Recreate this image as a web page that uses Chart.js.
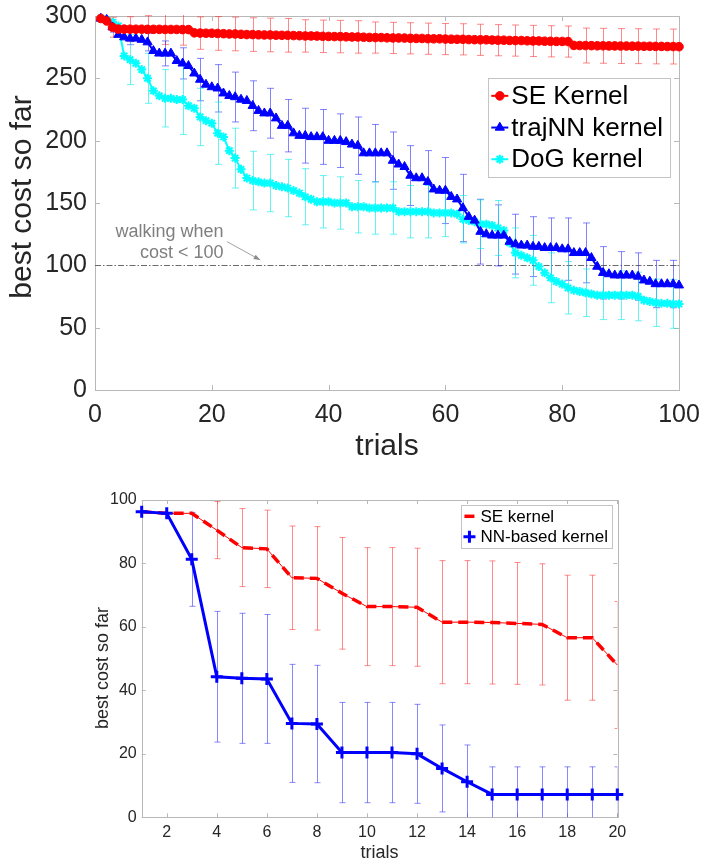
<!DOCTYPE html>
<html><head><meta charset="utf-8">
<script src="https://cdn.jsdelivr.net/npm/chart.js@4.4.1/dist/chart.umd.min.js"></script>
<style>
html,body{margin:0;padding:0;background:#fff;}
#wrap{position:relative;width:702px;height:864px;background:#fff;}
#c1{position:absolute;left:0;top:0;}
#c2{position:absolute;left:0;top:470px;}
</style></head><body>
<div id="wrap"><canvas id="c1" width="702" height="470"></canvas><canvas id="c2" width="702" height="394"></canvas></div>
<script>
// ================= DATA (top chart) =================
const topTrials = Array.from({length: 100}, (_, i) => i + 1);
const topXTicks = [0, 20, 40, 60, 80, 100];
const topYTicks = [0, 50, 100, 150, 200, 250, 300];
const seKernelCost = [
  298, 296, 291, 289.5, 289.5, 289.4, 289.4, 289.4, 289.3, 289.3,
  289.3, 289.2, 289.2, 289.2, 289.1, 289.1, 286.5, 286.3, 286.2, 286.2,
  286.0, 285.8, 285.6, 285.6, 285.3, 285.1, 285.1, 284.9, 284.8, 284.8,
  284.6, 284.5, 284.5, 284.3, 284.2, 284.0, 284.0, 283.9, 283.7, 283.6,
  283.5, 283.5, 283.3, 283.2, 283.2, 283.0, 282.8, 282.7, 282.7, 282.5,
  282.4, 282.4, 282.3, 282.1, 282.0, 282.0, 281.8, 281.7, 281.7, 281.5,
  281.4, 281.3, 281.3, 281.1, 281.0, 280.9, 280.9, 280.7, 280.6, 280.6,
  280.4, 280.3, 280.3, 280.1, 280.0, 280.0, 279.8, 279.7, 279.6, 279.6,
  279.5, 276.4, 276.3, 276.3, 276.2, 276.1, 276.1, 276.0, 276.0, 275.9,
  275.9, 275.8, 275.8, 275.7, 275.7, 275.6, 275.6, 275.5, 275.5, 275.4
];
const trajNNCost = [
  298, 297, 291, 285, 283, 282, 282, 281, 279, 272,
  270, 270, 270, 264, 262, 260, 254, 249, 245, 243,
  242, 238, 236, 235, 233, 232, 228, 224, 222, 222,
  218, 212, 212, 206, 204, 204, 203, 203, 203, 200,
  200, 200, 199, 197, 196, 190, 190, 190, 190, 190,
  184, 181, 179, 172, 170, 170, 167, 161, 160, 160,
  155, 153, 146, 139, 136, 127, 125, 124, 124, 124,
  119, 117, 116, 116, 115, 115, 114, 114, 114, 113,
  113, 110, 110, 110, 106, 99, 94, 93, 92, 92,
  92, 92, 91, 88, 87, 85, 85, 85, 85, 84
];
const dogKernelCost = [
  298, 297, 295, 292, 268, 265, 262, 257, 250, 240,
  236, 234, 234, 233, 233, 228, 226, 219, 216, 214,
  206, 203, 192, 186, 177, 170, 168, 167, 166, 166,
  164, 163, 162, 160, 158, 155, 153, 151, 151, 151,
  150, 150, 150, 147, 147, 147, 146, 146, 146, 146,
  146, 143, 143, 143, 143, 143, 143, 142, 142, 142,
  142, 141, 137, 136, 135, 133, 133, 132, 130, 128,
  118, 110, 108, 106, 104, 99, 94, 90, 87, 85,
  82, 80, 79, 78, 77, 76, 76, 76, 76, 76,
  76, 76, 75, 72, 71, 70, 69.5, 69.5, 69, 69
];
const errTrials = [3, 6, 9, 12, 15, 18, 21, 24, 27, 30, 33, 36, 39, 42, 45, 48, 51,
  54, 57, 60, 63, 66, 69, 72, 75, 78, 81, 84, 87, 90, 93, 96, 99];
const seKernelErr = [8, 10, 11, 12, 12.5, 13, 13.5, 13.5, 13.5, 13.5, 13.5, 13, 13, 13, 13, 12.5, 12.5,
  12.5, 12.5, 12.5, 12.5, 12.5, 12.5, 12.5, 12.5, 12.5, 12.5, 14, 14, 14, 14, 14, 14];
const trajNNErr = [4, 5, 7, 10, 12.5, 17, 19, 20, 20, 20, 21, 22, 22, 21.5, 23, 23, 23,
  24, 25, 26.5, 27, 26, 24.5, 24, 24, 24, 25, 24, 21, 19, 19, 19, 19];
const dogKernelErr = [2, 20, 20, 23, 28, 23, 25, 24, 23.5, 23, 23, 22.5, 21, 21, 21, 21, 21,
  21, 21, 19, 19, 19.5, 22, 20, 20, 20, 21, 19, 19.5, 19.5, 19.5, 19, 19.5];
const walkThreshold = 100;
const walkNote = ['walking when', 'cost < 100'];
const walkNoteAnchor = {x: 22, y: [127, 110]};
const walkArrow = {from: [22.6, 119], to: [28.3, 104.3]};

// ================= DATA (bottom chart) =================
const botTrials = [1, 2, 3, 4, 5, 6, 7, 8, 9, 10, 11, 12, 13, 14, 15, 16, 17, 18, 19, 20];
const botXTicks = [2, 4, 6, 8, 10, 12, 14, 16, 18, 20];
const botYTicks = [0, 20, 40, 60, 80, 100];
const seKernel2 = [96.3, 95.8, 95.8, 90.5, 85, 84.6, 75.5, 75.3, 70.6, 66.4,
  66.4, 66.2, 61.5, 61.5, 61.4, 61.1, 60.8, 56.6, 56.6, 48];
const seKernel2Err = [0, 0, 0, 9, 12.3, 12.2, 16.3, 16.3, 17.6, 18.6,
  18.6, 18.6, 19.4, 19.4, 19.4, 19.2, 19.1, 19.7, 19.7, 20];
const nnKernel2 = [96.3, 95.8, 81.3, 44.3, 43.8, 43.6, 29.6, 29.4, 20.4, 20.4,
  20.4, 20, 15.4, 11.2, 7.2, 7.2, 7.2, 7.2, 7.2, 7.2];
const nnKernel2Err = [0, 0, 14.8, 20.6, 20.5, 20.3, 18.6, 18.5, 15.8, 15.8,
  15.8, 15.6, 13.7, 11.6, 8.7, 8.7, 8.7, 8.7, 8.7, 8.7];

// ================= helpers =================
const FONT = "'Liberation Sans', Arial, Helvetica, sans-serif";
const TXT = '#262626';
const AXC = '#b8b8b8';
Chart.defaults.font.family = FONT;
Chart.defaults.color = TXT;
Chart.defaults.animation = false;

function pts(xs, ys) { return ys.map((v, i) => ({x: xs[i], y: v})); }
function noPad(s) { s.paddingLeft = 0; s.paddingRight = 0; s.paddingTop = 0; s.paddingBottom = 0; }

function drawBoxAndTicks(chart, tickLen) {
  const {ctx, chartArea: a, scales: {x, y}} = chart;
  ctx.save();
  ctx.strokeStyle = AXC; ctx.lineWidth = 1;
  ctx.beginPath();
  x.ticks.forEach(t => {
    const px = Math.round(x.getPixelForValue(t.value)) + 0.5;
    ctx.moveTo(px, a.bottom); ctx.lineTo(px, a.bottom - tickLen);
    ctx.moveTo(px, a.top); ctx.lineTo(px, a.top + tickLen);
  });
  y.ticks.forEach(t => {
    const py = Math.round(y.getPixelForValue(t.value)) + 0.5;
    ctx.moveTo(a.left, py); ctx.lineTo(a.left + tickLen, py);
    ctx.moveTo(a.right, py); ctx.lineTo(a.right - tickLen, py);
  });
  ctx.stroke();
  ctx.strokeRect(Math.round(a.left) + 0.5, Math.round(a.top) + 0.5,
    Math.round(a.right - a.left), Math.round(a.bottom - a.top));
  ctx.restore();
}

function drawErrorBars(chart, capHalf) {
  const {ctx, chartArea: a, scales: {x, y}} = chart;
  ctx.save();
  ctx.beginPath(); ctx.rect(a.left, a.top - 1, a.right - a.left, a.bottom - a.top + 1); ctx.clip();
  ctx.lineWidth = 1;
  chart.data.datasets.forEach(ds => {
    if (!ds.errHalf) return;
    ctx.strokeStyle = ds.errColor;
    ds.errAt.forEach((xv, k) => {
      const h = ds.errHalf[k]; if (!h) return;
      const p = ds.data.find(d => d.x === xv); if (!p) return;
      const px = Math.round(x.getPixelForValue(xv)) + 0.5;
      const y1 = y.getPixelForValue(p.y + h), y2 = y.getPixelForValue(p.y - h);
      ctx.beginPath();
      ctx.moveTo(px, y1); ctx.lineTo(px, y2);
      ctx.moveTo(px - capHalf, y1); ctx.lineTo(px + capHalf, y1);
      ctx.moveTo(px - capHalf, y2); ctx.lineTo(px + capHalf, y2);
      ctx.stroke();
    });
  });
  ctx.restore();
}

function drawYTitle(chart, text, size, cx, cy) {
  const ctx = chart.ctx;
  ctx.save();
  ctx.font = size + 'px ' + FONT;
  ctx.fillStyle = TXT; ctx.textAlign = 'center'; ctx.textBaseline = 'middle';
  ctx.translate(cx, cy); ctx.rotate(-Math.PI / 2);
  ctx.fillText(text, 0, 0);
  ctx.restore();
}

function drawLegend(chart, o) {
  const {ctx, chartArea: a} = chart;
  const items = chart.data.datasets.filter(d => !d.hideInLegend);
  ctx.save();
  ctx.font = o.fontSize + 'px ' + FONT;
  const tw = Math.max(...items.map(d => ctx.measureText(d.label).width));
  const w = o.padL + o.lineLen + o.gap + tw + o.padR;
  const h = o.padV * 2 + o.rowH * items.length;
  const x0 = a.right - o.rightGap - w, y0 = a.top + o.topGap;
  ctx.fillStyle = '#fff'; ctx.fillRect(x0, y0, w, h);
  ctx.strokeStyle = '#c4c4c4'; ctx.lineWidth = 1;
  ctx.strokeRect(Math.round(x0) + 0.5, Math.round(y0) + 0.5, Math.round(w), Math.round(h));
  items.forEach((d, i) => {
    const cy = y0 + o.padV + o.rowH * (i + 0.5);
    const lx = x0 + o.padL;
    o.marker(ctx, d, lx, lx + o.lineLen, cy);
    ctx.font = o.fontSize + 'px ' + FONT;
    ctx.fillStyle = '#000'; ctx.textBaseline = 'middle'; ctx.textAlign = 'left';
    ctx.fillText(d.label, lx + o.lineLen + o.gap, cy + 1);
  });
  ctx.restore();
}

function linePointMarker(ctx, d, x1, x2, cy) {
  ctx.save();
  ctx.strokeStyle = d.borderColor; ctx.lineWidth = d.borderWidth;
  ctx.beginPath(); ctx.moveTo(x1, cy); ctx.lineTo(x2, cy); ctx.stroke();
  ctx.fillStyle = d.pointBackgroundColor; ctx.strokeStyle = d.pointBorderColor;
  ctx.lineWidth = d.pointBorderWidth;
  Chart.helpers.drawPoint(ctx, {pointStyle: d.pointStyle, radius: d.pointRadius,
    borderWidth: d.pointBorderWidth, rotation: 0}, (x1 + x2) / 2, cy);
  ctx.restore();
}

// ================= TOP CHART =================
const topPlugin = {
  id: 'topPlugin',
  beforeDatasetsDraw(chart) {
    const {ctx, chartArea: a, scales: {x, y}} = chart;
    drawBoxAndTicks(chart, 5);
    // threshold line (dash-dot)
    ctx.save();
    ctx.strokeStyle = '#6a6a6a'; ctx.lineWidth = 1; ctx.setLineDash([6, 2, 1.5, 2]);
    const ty = Math.round(y.getPixelForValue(walkThreshold)) + 0.5;
    ctx.beginPath(); ctx.moveTo(x.getPixelForValue(0), ty); ctx.lineTo(x.getPixelForValue(100), ty); ctx.stroke();
    ctx.restore();
    // annotation
    ctx.save();
    ctx.fillStyle = '#7f7f7f'; ctx.font = '18px ' + FONT; ctx.textAlign = 'right'; ctx.textBaseline = 'middle';
    walkNote.forEach((t, i) => ctx.fillText(t, x.getPixelForValue(walkNoteAnchor.x), y.getPixelForValue(walkNoteAnchor.y[i])));
    const ax1 = x.getPixelForValue(walkArrow.from[0]), ay1 = y.getPixelForValue(walkArrow.from[1]);
    const ax2 = x.getPixelForValue(walkArrow.to[0]), ay2 = y.getPixelForValue(walkArrow.to[1]);
    ctx.strokeStyle = '#8a8a8a'; ctx.fillStyle = '#8a8a8a'; ctx.lineWidth = 0.8;
    ctx.beginPath(); ctx.moveTo(ax1, ay1); ctx.lineTo(ax2, ay2); ctx.stroke();
    const ang = Math.atan2(ay2 - ay1, ax2 - ax1);
    ctx.beginPath(); ctx.moveTo(ax2, ay2);
    ctx.lineTo(ax2 - 7 * Math.cos(ang - 0.35), ay2 - 7 * Math.sin(ang - 0.35));
    ctx.lineTo(ax2 - 7 * Math.cos(ang + 0.35), ay2 - 7 * Math.sin(ang + 0.35));
    ctx.closePath(); ctx.fill();
    ctx.restore();
    drawErrorBars(chart, 3.5);
  },
  afterDatasetsDraw(chart) {
    drawLegend(chart, {fontSize: 26, padL: 3, lineLen: 17, gap: 3, padR: 7, rowH: 31.7, padV: 2,
      rightGap: 9, topGap: 62, marker: linePointMarker});
    drawYTitle(chart, 'best cost so far', 30, 23, 197);
  }
};

const chartTop = new Chart(document.getElementById('c1'), {
  type: 'line',
  data: {datasets: [
    {label: 'SE Kernel', data: pts(topTrials, seKernelCost), borderColor: '#ff0000', borderWidth: 2,
      pointStyle: 'circle', pointRadius: 4.3, pointBackgroundColor: '#ff0000', pointBorderColor: '#ff0000', pointBorderWidth: 1,
      errAt: errTrials, errHalf: seKernelErr, errColor: 'rgba(255,40,40,0.55)'},
    {label: 'trajNN kernel', data: pts(topTrials, trajNNCost), borderColor: '#0000ff', borderWidth: 2,
      pointStyle: 'triangle', pointRadius: 5.3, pointBackgroundColor: '#0000ff', pointBorderColor: '#0000ff', pointBorderWidth: 1,
      errAt: errTrials, errHalf: trajNNErr, errColor: 'rgba(30,30,255,0.55)'},
    {label: 'DoG kernel', data: pts(topTrials, dogKernelCost), borderColor: '#00ffff', borderWidth: 2,
      pointStyle: 'star', pointRadius: 4.5, pointBackgroundColor: '#00ffff', pointBorderColor: '#00ffff', pointBorderWidth: 2,
      errAt: errTrials, errHalf: dogKernelErr, errColor: 'rgba(0,235,235,0.6)'}
  ].map(d => Object.assign(d, {tension: 0, clip: false, fill: false}))},
  options: {
    responsive: false, animation: false, events: [],
    layout: {autoPadding: false, padding: {left: 0, top: 16, right: 23, bottom: 0}},
    plugins: {legend: {display: false}, tooltip: {enabled: false}},
    scales: {
      x: {type: 'linear', min: 0, max: 100,
        afterBuildTicks: s => { s.ticks = topXTicks.map(v => ({value: v})); },
        afterFit: s => { s.height = 80; noPad(s); },
        grid: {display: false, drawTicks: false}, border: {display: false},
        ticks: {font: {size: 25}, padding: 10, color: TXT, maxRotation: 0, autoSkip: false},
        title: {display: true, text: 'trials', font: {size: 30}, color: TXT, padding: {top: 0, bottom: 5}}},
      y: {type: 'linear', min: 0, max: 300,
        afterBuildTicks: s => { s.ticks = topYTicks.map(v => ({value: v})); },
        afterFit: s => { s.width = 95; noPad(s); },
        grid: {display: false, drawTicks: false}, border: {display: false},
        ticks: {font: {size: 25}, padding: 8, color: TXT, autoSkip: false}}
    }
  },
  plugins: [topPlugin]
});

// ================= BOTTOM CHART =================
const botPlugin = {
  id: 'botPlugin',
  beforeDatasetsDraw(chart) {
    drawBoxAndTicks(chart, 4);
    drawErrorBars(chart, 3);
  },
  afterDatasetsDraw(chart) {
    drawLegend(chart, {fontSize: 17, padL: 2, lineLen: 12, gap: 5, padR: 4, rowH: 20.4, padV: 1.1,
      rightGap: 5.3, topGap: 5, marker: (ctx, d, x1, x2, cy) => {
        const cx = (x1 + x2) / 2;
        ctx.save();
        ctx.strokeStyle = d.borderColor;
        if (d.pointStyle === 'cross') {
          ctx.lineWidth = 3;
          ctx.beginPath(); ctx.moveTo(cx - 6, cy); ctx.lineTo(cx + 6, cy);
          ctx.moveTo(cx, cy - 6); ctx.lineTo(cx, cy + 6); ctx.stroke();
        } else {
          ctx.lineWidth = 3.5;
          ctx.beginPath(); ctx.moveTo(cx - 5, cy); ctx.lineTo(cx + 5, cy); ctx.stroke();
        }
        ctx.restore();
      }});
    drawYTitle(chart, 'best cost so far', 18, 103, 198);
  }
};

const chartBot = new Chart(document.getElementById('c2'), {
  type: 'line',
  data: {datasets: [
    {label: 'SE kernel', data: pts(botTrials, seKernel2), borderColor: '#ff0000', borderWidth: 1,
      pointRadius: 0, order: 1, hideInLegend: true},
    {label: 'SE kernel', data: pts(botTrials, seKernel2), borderColor: '#ff0000', borderWidth: 3.5,
      borderDash: [10, 6], pointRadius: 0, order: 1,
      errAt: botTrials, errHalf: seKernel2Err, errColor: 'rgba(255,60,60,0.6)'},
    {label: 'NN-based kernel', data: pts(botTrials, nnKernel2), borderColor: '#0000ff', borderWidth: 3,
      pointStyle: 'cross', pointRadius: 6, pointBorderColor: '#0000ff', pointBackgroundColor: '#0000ff',
      pointBorderWidth: 3, order: 0,
      errAt: botTrials, errHalf: nnKernel2Err, errColor: 'rgba(40,40,255,0.55)'}
  ].map(d => Object.assign(d, {tension: 0, clip: false, fill: false}))},
  options: {
    responsive: false, animation: false, events: [],
    layout: {autoPadding: false, padding: {left: 0, top: 30, right: 84.7, bottom: 0}},
    plugins: {legend: {display: false}, tooltip: {enabled: false}},
    scales: {
      x: {type: 'linear', min: 1, max: 20,
        afterBuildTicks: s => { s.ticks = botXTicks.map(v => ({value: v})); },
        afterFit: s => { s.height = 46.7; noPad(s); },
        grid: {display: false, drawTicks: false}, border: {display: false},
        ticks: {font: {size: 16}, padding: 6, color: TXT, maxRotation: 0, autoSkip: false},
        title: {display: true, text: 'trials', font: {size: 18}, color: TXT, padding: {top: 0, bottom: 0}}},
      y: {type: 'linear', min: 0, max: 100,
        afterBuildTicks: s => { s.ticks = botYTicks.map(v => ({value: v})); },
        afterFit: s => { s.width = 141.7; noPad(s); },
        grid: {display: false, drawTicks: false}, border: {display: false},
        ticks: {font: {size: 16}, padding: 5, color: TXT, autoSkip: false}}
    }
  },
  plugins: [botPlugin]
});
</script>
</body></html>
